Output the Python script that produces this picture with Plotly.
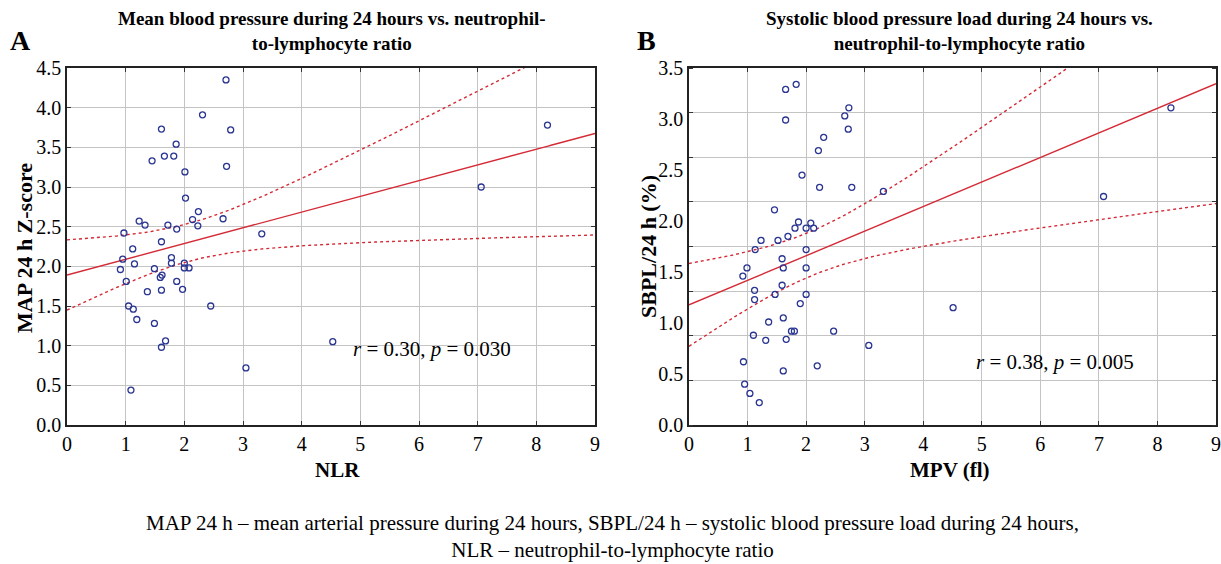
import numpy as np
import plotly.graph_objects as go

# ---------------- data ----------------
nlr_x = [2.71, 2.31, 1.61, 2.79, 1.86, 1.45, 1.66, 1.82, 2.72, 2.01, 2.02, 2.24, 2.14, 2.66,
         1.23, 1.33, 1.72, 2.23, 1.87, 0.97, 1.61, 1.12, 3.32,
         0.95, 1.15, 1.78, 1.78, 2.00, 2.00, 2.08, 0.91, 1.49, 1.62, 1.59, 1.01, 1.87, 1.37,
         1.61, 1.97, 1.05, 1.13, 2.45, 1.19, 1.49, 1.68, 1.61, 3.05, 1.09,
         8.19, 7.06, 4.53]
map_y = [4.35, 3.91, 3.73, 3.72, 3.54, 3.33, 3.39, 3.39, 3.26, 3.19, 2.86, 2.69, 2.59, 2.60,
         2.57, 2.52, 2.52, 2.51, 2.47, 2.42, 2.31, 2.22, 2.41,
         2.09, 2.03, 2.11, 2.04, 2.04, 1.98, 1.98, 1.96, 1.97, 1.89, 1.86, 1.81, 1.81, 1.68,
         1.70, 1.71, 1.50, 1.46, 1.50, 1.33, 1.28, 1.06, 0.98, 0.72, 0.44,
         3.78, 3.00, 1.05]

mpv_x = [1.65, 1.83, 1.65, 2.73, 2.66, 2.72, 2.30, 2.21, 1.93, 2.23, 2.78, 1.46, 1.87, 1.81,
         2.08, 2.00, 2.13, 1.69, 1.52, 1.23, 1.13, 2.00,
         3.32, 7.08, 8.23, 4.51, 3.07,
         1.59, 0.99, 1.61, 2.00, 0.92, 1.12, 1.59, 1.47, 2.00, 1.12, 1.90, 1.36, 1.61, 1.75,
         1.80, 2.47, 1.10, 1.31, 1.66, 0.93, 2.19, 1.61, 0.95, 1.04, 1.20]
sbpl_y = [3.29, 3.34, 2.99, 3.11, 3.03, 2.90, 2.82, 2.69, 2.45, 2.33, 2.33, 2.11, 1.99, 1.93,
          1.98, 1.93, 1.93, 1.85, 1.81, 1.81, 1.72, 1.72,
          2.29, 2.24, 3.11, 1.15, 0.78,
          1.63, 1.54, 1.54, 1.54, 1.46, 1.32, 1.37, 1.28, 1.28, 1.23, 1.19, 1.01, 1.05, 0.92,
          0.92, 0.92, 0.88, 0.83, 0.84, 0.62, 0.58, 0.53, 0.40, 0.31, 0.22]

x_ticks = [0, 1, 2, 3, 4, 5, 6, 7, 8, 9]
left_y_ticks = [0, 0.5, 1, 1.5, 2, 2.5, 3, 3.5, 4, 4.5]
right_y_ticks = [0, 0.5, 1, 1.5, 2, 2.5, 3, 3.5]
stats_A = "<i>r</i> = 0.30, <i>p</i> = 0.030"
stats_B = "<i>r</i> = 0.38, <i>p</i> = 0.005"

FONT = "Liberation Serif"
RED = "#d42a36"
BLUE = "#2a3592"


def fit_with_ci(x, y, xs, t=2.01):
    x = np.asarray(x, float)
    y = np.asarray(y, float)
    n = len(x)
    b, a = np.polyfit(x, y, 1)
    resid = y - (a + b * x)
    s = np.sqrt(np.sum(resid ** 2) / (n - 2))
    sxx = np.sum((x - x.mean()) ** 2)
    yh = a + b * xs
    h = t * s * np.sqrt(1.0 / n + (xs - x.mean()) ** 2 / sxx)
    return yh, yh - h, yh + h


xs = np.linspace(0, 9, 181)
fig = go.Figure()

for (xd, yd, xa, ya) in [(nlr_x, map_y, "x", "y"), (mpv_x, sbpl_y, "x2", "y2")]:
    yh, lo, hi = fit_with_ci(xd, yd, xs)
    fig.add_trace(go.Scatter(x=xs, y=hi, mode="lines", xaxis=xa, yaxis=ya,
                             line=dict(color=RED, width=1.4, dash="dot"), showlegend=False))
    fig.add_trace(go.Scatter(x=xs, y=lo, mode="lines", xaxis=xa, yaxis=ya,
                             line=dict(color=RED, width=1.4, dash="dot"), showlegend=False))
    fig.add_trace(go.Scatter(x=xs, y=yh, mode="lines", xaxis=xa, yaxis=ya,
                             line=dict(color=RED, width=1.4), showlegend=False))
    fig.add_trace(go.Scatter(x=xd, y=yd, mode="markers", xaxis=xa, yaxis=ya,
                             marker=dict(symbol="circle-open", size=6, color=BLUE,
                                         line=dict(width=1.3, color=BLUE)),
                             showlegend=False))

W, H = 1221, 564
top, bot = 68, 425
ydom = [1 - bot / H, 1 - top / H]

axis_common = dict(showline=True, linecolor="#222", linewidth=1.6, mirror="ticks",
                   ticks="inside", ticklen=4, tickcolor="#333", gridcolor="#c4c4c4",
                   gridwidth=1, zeroline=False, automargin=False,
                   tickfont=dict(family=FONT, size=20, color="black"))

fig.update_layout(
    width=W, height=H,
    margin=dict(l=0, r=0, t=0, b=0),
    plot_bgcolor="white", paper_bgcolor="white",
    xaxis=dict(domain=[67 / W, 595 / W], range=[0, 9], tickvals=x_ticks, anchor="y",
               **axis_common),
    yaxis=dict(domain=ydom, range=[0, 4.5], tickvals=left_y_ticks, tickformat=".1f",
               anchor="x", **axis_common),
    xaxis2=dict(domain=[689 / W, 1216 / W], range=[0, 9], tickvals=x_ticks, anchor="y2",
                **axis_common),
    yaxis2=dict(domain=ydom, range=[0, 3.5], tickvals=right_y_ticks, tickformat=".1f",
                anchor="x2", showgrid=False,
                minor=dict(tickvals=[i * 3.5 / 8 for i in range(9)], showgrid=True,
                           gridcolor="#c4c4c4", gridwidth=1, ticks="inside", ticklen=4,
                           tickcolor="#333"),
                **{k: v for k, v in axis_common.items() if k not in ("ticks",)},
                ticks=""),
)

ann = []
def txt(x, y, s, size, angle=0, xanchor="center", yanchor="middle"):
    ann.append(dict(x=x / W, y=1 - y / H, xref="paper", yref="paper", text=s,
                    showarrow=False, textangle=angle, xanchor=xanchor, yanchor=yanchor,
                    font=dict(family=FONT, size=size, color="black")))

txt(20, 41, "<b>A</b>", 28)
txt(646, 41, "<b>B</b>", 28)
txt(332, 31, "<b>Mean blood pressure during 24 hours vs. neutrophil-<br>to-lymphocyte ratio</b>", 19)
txt(959, 31, "<b>Systolic blood pressure load during 24 hours vs.<br>neutrophil-to-lymphocyte ratio</b>", 19)
txt(337, 470, "<b>NLR</b>", 21)
txt(950, 470, "<b>MPV (fl)</b>", 21)
txt(25, 248, "<b>MAP 24 h Z-score</b>", 22, angle=-90)
txt(648, 246, "<b>SBPL/24 h (%)</b>", 22, angle=-90)
txt(432, 349, stats_A, 21)
txt(1055, 362, stats_B, 21)
txt(612, 536, "MAP 24 h – mean arterial pressure during 24 hours, SBPL/24 h – systolic blood pressure load during 24 hours,<br>NLR – neutrophil-to-lymphocyte ratio", 21)
fig.update_layout(annotations=ann)

fig.write_html("out.html", config={"displayModeBar": False},
               post_script="document.body.style.margin='0px';document.body.style.overflow='hidden';")
